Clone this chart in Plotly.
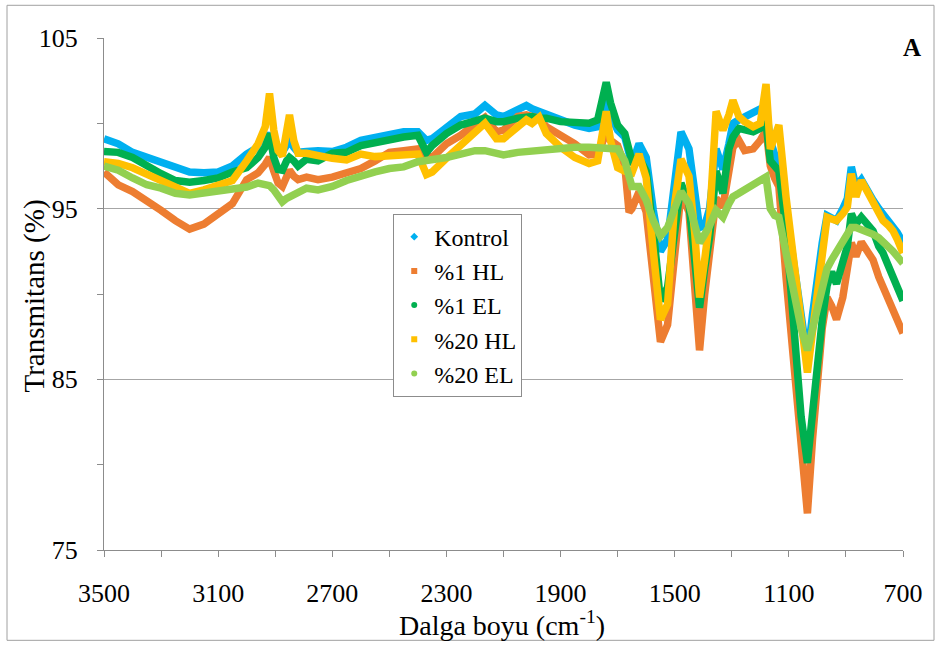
import plotly.graph_objects as go

wn = [3500, 3450, 3400, 3350, 3300, 3250, 3200, 3150, 3100, 3050,
      3000, 2960, 2935, 2920, 2905, 2890, 2875, 2860, 2850, 2835,
      2820, 2790, 2750, 2700, 2650, 2600, 2550, 2500, 2450, 2400,
      2370, 2350, 2300, 2250, 2200, 2165, 2125, 2100, 2050, 2020,
      2000, 1975, 1950, 1900, 1850, 1800, 1770, 1755, 1740, 1725,
      1700, 1675, 1660, 1650, 1625, 1600, 1575, 1550, 1525, 1500,
      1478, 1450, 1430, 1413, 1395, 1378, 1355, 1331, 1310, 1296,
      1275, 1255, 1225, 1200, 1180, 1165, 1150, 1135, 1110, 1090,
      1073, 1057, 1035, 1017, 1000, 983, 966, 950, 933, 911,
      895, 881, 865, 846, 825, 805, 785, 770, 750, 735,
      720, 700]

kontrol = [99.1, 98.8, 98.3, 98.0, 97.7, 97.4, 97.15, 97.1, 97.15, 97.5,
           98.2, 98.6, 99.0, 99.4, 98.9, 98.3, 98.3, 98.7, 99.0, 98.6,
           98.3, 98.35, 98.4, 98.35, 98.6, 99.0, 99.2, 99.4, 99.5, 99.5,
           99.0, 99.1, 99.8, 100.4, 100.55, 101.05, 100.5, 100.4, 100.8, 101.05,
           100.85, 100.7, 100.45, 100.2, 99.9, 99.7, 99.8, 100.6, 101.3, 100.5,
           99.6, 99.2, 98.3, 97.6, 98.8, 98.0, 94.9, 92.5, 93.2, 96.6,
           99.5, 98.5, 96.2, 93.9, 94.0, 95.0, 98.5, 97.3, 98.8, 100.0,
           100.2, 100.4, 100.6, 100.85, 101.0, 99.0, 98.2, 97.6, 95.0, 92.5,
           90.3, 88.2, 86.2, 88.8, 91.2, 93.0, 94.6, 94.4, 94.3, 95.0,
           95.6, 97.45, 96.3, 96.7, 96.0, 95.5, 95.0, 94.7, 94.3, 94.0,
           93.6, 93.0]

hl1 = [97.15, 96.4, 96.0, 95.5, 94.9, 94.3, 93.8, 94.1, 94.7, 95.3,
       96.7, 97.1, 97.6, 98.0, 97.2, 96.5, 96.3, 96.9, 97.25, 96.9,
       96.7, 96.85, 96.7, 96.85, 97.15, 97.35, 97.8, 98.3, 98.4, 98.5,
       98.1, 98.0, 98.8, 99.3, 99.95, 100.35, 99.5, 99.6, 100.4, 100.5,
       100.4, 100.3, 99.8, 99.3, 98.8, 98.15, 98.2, 98.8, 99.5, 99.0,
       98.7, 97.5, 94.8, 95.0, 96.0, 94.8, 90.5, 87.2, 88.2, 92.4,
       95.9, 94.8, 90.5, 86.7, 90.0, 92.4, 95.6, 95.1, 97.5, 98.6,
       99.0, 98.4, 98.5, 99.0, 99.6, 97.5, 96.8, 96.3, 91.0, 87.5,
       84.8, 80.9, 77.15, 81.5, 84.5, 88.0, 89.8, 89.3, 88.5, 89.8,
       91.5, 93.0, 92.2, 93.05, 92.5, 92.0, 91.0, 90.4, 89.6, 89.0,
       88.4, 87.7]

el1 = [98.35, 98.3, 98.0, 97.5, 97.05, 96.65, 96.55, 96.65, 96.8, 97.15,
       97.4, 98.0, 98.6, 99.4, 98.0, 97.3, 97.25, 97.8, 98.0, 97.8,
       97.5, 97.9, 97.8, 98.25, 98.3, 98.7, 98.9, 99.1, 99.2, 99.3,
       98.3, 98.7, 99.4, 99.9, 100.1, 100.3, 100.1, 100.1, 100.3, 100.4,
       100.4, 100.3, 100.3, 100.1, 100.0, 100.0, 100.2, 101.5, 102.4, 101.2,
       99.9, 99.4, 98.3, 97.8, 98.0, 97.2, 93.7, 89.6, 90.4, 93.3,
       96.5, 95.3, 92.0, 89.2, 91.5, 93.3, 97.2, 95.9, 98.5, 99.2,
       99.7, 99.6, 99.5, 99.7, 100.0, 97.8, 97.5, 97.2, 93.8, 89.5,
       86.0, 82.8, 80.1, 83.4, 85.8, 88.5, 90.5, 91.3, 90.6, 91.8,
       92.8, 94.7, 94.1, 94.5, 94.0, 93.7, 92.8, 92.4, 91.6, 91.0,
       90.4, 89.6]

hl20 = [97.75, 97.65, 97.4, 97.05, 96.65, 96.35, 95.9, 96.1, 96.35, 96.65,
        97.8, 98.8, 99.8, 101.75, 99.6, 98.4, 98.1, 99.3, 100.5, 99.0,
        98.25, 98.25, 98.1, 97.95, 97.85, 98.2, 98.05, 98.1, 98.15, 98.2,
        97.0, 97.15, 97.95, 98.7, 99.4, 100.0, 99.1, 99.1, 99.8, 100.2,
        100.0, 100.35, 99.4, 98.6, 98.0, 97.65, 97.8, 99.2, 100.7, 99.0,
        97.4, 97.2, 97.1, 97.1, 98.2, 96.8, 92.5, 88.5, 89.4, 95.3,
        97.9, 96.9, 93.6, 89.8, 92.0, 94.3, 100.7, 99.6, 100.5, 101.35,
        100.4, 100.1, 99.8, 100.0, 102.3, 98.5, 99.2, 99.9, 95.7, 93.0,
        90.5, 87.8, 85.4, 87.8, 90.0, 91.8, 94.5, 94.4, 94.3, 94.7,
        95.1, 97.05, 95.7, 96.65, 96.0, 95.3, 94.6, 94.3, 94.0, 93.7,
        93.2, 92.4]

el20 = [97.5, 97.25, 96.8, 96.4, 96.2, 95.9, 95.8, 95.9, 96.0, 96.1,
        96.27, 96.5, 96.4, 96.35, 96.1, 95.7, 95.4, 95.6, 95.7, 95.8,
        95.9, 96.2, 96.1, 96.3, 96.65, 96.95, 97.15, 97.35, 97.45, 97.75,
        97.8, 97.85, 98.0, 98.2, 98.4, 98.4, 98.25, 98.15, 98.3, 98.35,
        98.4, 98.45, 98.45, 98.5, 98.6, 98.6, 98.6, 98.55, 98.6, 98.5,
        98.5, 97.8, 97.0, 96.3, 96.3, 95.5, 94.3, 93.4, 93.9, 95.1,
        96.0, 95.3, 94.0, 93.0, 93.5, 94.0, 94.9, 94.5, 95.3, 95.7,
        95.9, 96.1, 96.45, 96.75, 96.86, 95.0, 94.6, 94.5, 92.3, 90.8,
        89.3, 88.0, 86.7, 88.0, 89.2, 90.5, 91.5, 92.0, 92.5, 93.15,
        93.5, 93.9, 93.9, 93.8, 93.6, 93.5, 93.3, 93.1, 92.8, 92.5,
        92.2, 91.8]

series_names = ["Kontrol", "%1 HL", "%1 EL", "%20 HL", "%20 EL"]
series_values = [kontrol, hl1, el1, hl20, el20]
colors = ["#00B0F0", "#ED7D31", "#00B050", "#FFC000", "#92D050"]
symbols = ["diamond", "square", "circle", "square", "circle"]

for s in series_values:
    assert len(s) == len(wn)

FONT = "Liberation Serif"
GRAY = "#8c8c8c"

fig = go.Figure()
for name, vals, col in zip(series_names, series_values, colors):
    fig.add_trace(go.Scatter(x=wn, y=vals, mode="lines", name=name,
                             line=dict(color=col, width=7.5),
                             showlegend=False, hoverinfo="skip"))
for name, col, sym in zip(series_names, colors, symbols):
    fig.add_trace(go.Scatter(x=[None], y=[None], mode="markers", name=name,
                             marker=dict(color=col, symbol=sym, size=6),
                             showlegend=True))

fig.update_layout(
    width=942, height=645,
    margin=dict(l=104, r=39, t=38, b=95),
    paper_bgcolor="white", plot_bgcolor="white",
    font=dict(family=FONT, size=25, color="black"),
    xaxis=dict(range=[3500, 700], tick0=700, dtick=400,
               ticks="outside", ticklen=6, tickcolor=GRAY,
               minor=dict(dtick=200, tick0=700, ticks="outside", ticklen=6,
                          tickcolor=GRAY, showgrid=False),
               showline=True, linecolor=GRAY, linewidth=1,
               showgrid=False, zeroline=False,
               tickfont=dict(family=FONT, size=26, color="black"),
               ticklabelstandoff=14),
    yaxis=dict(range=[75, 105], tick0=75, dtick=10,
               ticks="outside", ticklen=6, tickcolor=GRAY,
               minor=dict(dtick=5, tick0=75, ticks="outside", ticklen=6,
                          tickcolor=GRAY, showgrid=False),
               showline=True, linecolor=GRAY, linewidth=1,
               showgrid=True, gridcolor="#a6a6a6", gridwidth=1,
               zeroline=False,
               tickfont=dict(family=FONT, size=26, color="black"),
               ticklabelstandoff=14),
    legend=dict(x=0.362, y=0.657, xanchor="left", yanchor="top",
                bgcolor="white", bordercolor=GRAY, borderwidth=1,
                font=dict(family=FONT, size=24, color="black"),
                tracegroupgap=0),
    annotations=[
        dict(text="Transmitans (%)", xref="paper", yref="paper",
             x=-0.0864, y=0.497, xanchor="center", yanchor="middle",
             textangle=-90, showarrow=False,
             font=dict(family=FONT, size=29, color="black")),
        dict(text="Dalga boyu (cm<sup>-1</sup>)", xref="paper", yref="paper",
             x=0.498, y=-0.143, xanchor="center", yanchor="middle",
             showarrow=False, font=dict(family=FONT, size=28, color="black")),
        dict(text="<b>A</b>", xref="paper", yref="paper",
             x=1.011, y=0.982, xanchor="center", yanchor="middle",
             showarrow=False, font=dict(family=FONT, size=25, color="black")),
    ],
    shapes=[dict(type="rect", xref="paper", yref="paper",
                 x0=-0.1214, y0=-0.1764, x1=1.0388, y1=1.0639,
                 line=dict(color="#a0a0a0", width=1), layer="below")],
)

fig.write_html("out.html")
